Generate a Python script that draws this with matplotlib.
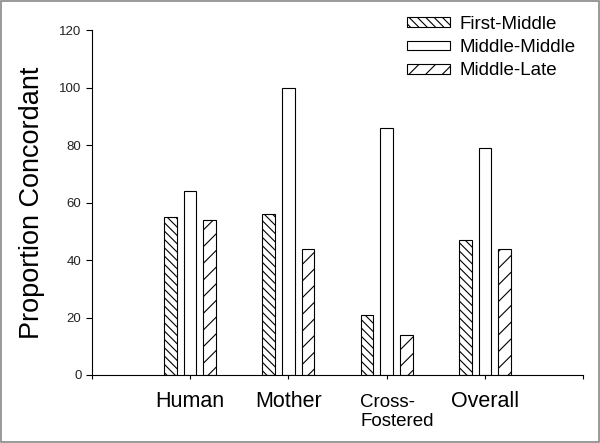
import matplotlib
matplotlib.use("Agg")
import matplotlib.pyplot as plt
import numpy as np
from matplotlib.patches import Rectangle

plt.rcParams['font.family'] = ['Liberation Sans', 'DejaVu Sans']
plt.rcParams['hatch.linewidth'] = 0.8

categories = ["Human", "Mother", "Cross-\nFostered", "Overall"]
series_names = ["First-Middle", "Middle-Middle", "Middle-Late"]
first_middle = [55, 56, 21, 47]
middle_middle = [64, 100, 86, 79]
middle_late = [54, 44, 14, 44]
yticks = [0, 20, 40, 60, 80, 100, 120]

fig = plt.figure(figsize=(6.0, 4.43), dpi=100)
ax = fig.add_axes([0.153, 0.1535, 0.819, 0.7785])

x = np.arange(1, len(categories) + 1)
w = 0.13
off = 0.2
hatches = ['\\\\\\\\', '', '//']
for i, (vals, name, h) in enumerate(zip([first_middle, middle_middle, middle_late], series_names, hatches)):
    ax.bar(x + (i - 1) * off, vals, width=w, facecolor='white', edgecolor='black',
           linewidth=0.8, hatch=h, label=name)

ax.set_xlim(0, 5)
ax.set_ylim(0, 120)
ax.set_yticks(yticks)
ax.set_yticklabels([str(t) for t in yticks], fontsize=9.5, color='#222222')
ax.set_xticks([0, 1, 2, 3, 4, 5])
tick_labels = [""] + [c if "\n" not in c else "" for c in categories] + [""]
ax.set_xticklabels(tick_labels, fontsize=15.5)
# multi-line category label, left-aligned block, drawn separately
for xi, c in zip(x, categories):
    if "\n" in c:
        ax.annotate(c, xy=(xi, 0), xycoords=('data', 'axes fraction'),
                    xytext=(-19, -13.5), textcoords='offset points',
                    ha='left', va='top', multialignment='left', fontsize=13.5)
ax.tick_params(axis='x', length=3, width=0.8, pad=8.5)
ax.tick_params(axis='y', length=4.5, width=0.8, pad=3)
ax.spines['top'].set_visible(False)
ax.spines['right'].set_visible(False)
ax.spines['left'].set_linewidth(0.8)
ax.spines['bottom'].set_linewidth(0.8)
ax.set_ylabel("Proportion Concordant", fontsize=19.5, labelpad=10)

leg = ax.legend(loc='upper left', bbox_to_anchor=(407 / 600, 1 - 16 / 443),
                bbox_transform=fig.transFigure, frameon=False, fontsize=13.5,
                handlelength=2.3, handleheight=0.42, labelspacing=0.33, handletextpad=0.5,
                borderpad=0, borderaxespad=0)

fig.patches.append(Rectangle((0.002, 0.002), 0.996, 0.996, transform=fig.transFigure,
                             fill=False, edgecolor='#888888', linewidth=1.2))

fig.savefig("out.png", dpi=100)
